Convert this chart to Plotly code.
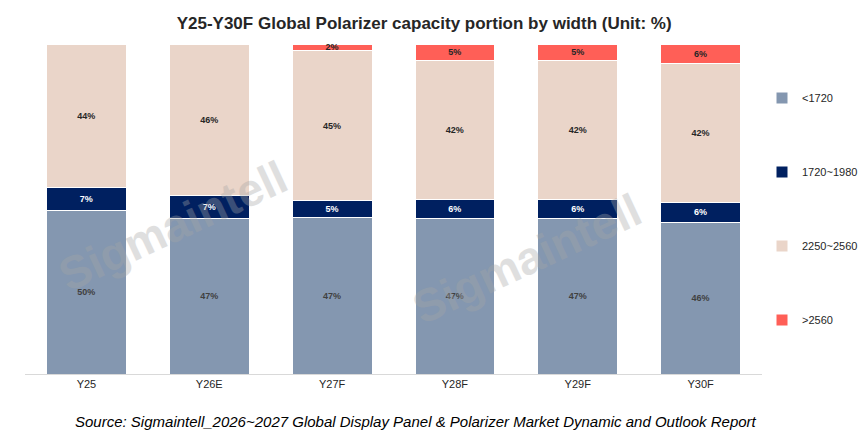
import plotly.graph_objects as go

years = ["Y25", "Y26E", "Y27F", "Y28F", "Y29F", "Y30F"]
lt1720 = [50, 47, 47, 47, 47, 46]
w1720_1980 = [7, 7, 5, 6, 6, 6]
w2250_2560 = [44, 46, 45, 42, 42, 42]
gt2560 = [0, 0, 2, 5, 5, 6]

series = [
    ("<1720", lt1720, "#8497B0", "#404040"),
    ("1720~1980", w1720_1980, "#002060", "white"),
    ("2250~2560", w2250_2560, "#EAD5C9", "#262626"),
    (">2560", gt2560, "#FF5F57", "#262626"),
]

FONT = "Liberation Sans, Arial"

fig = go.Figure()
for name, vals, color, tcol in series:
    fig.add_trace(go.Bar(
        x=years, y=vals, name=name, legendgroup=name,
        marker=dict(color=color, line=dict(color="white", width=1)),
        text=[f"{v}%" if v > 0 else "" for v in vals],
        textposition="inside", insidetextanchor="middle", textangle=0,
        textfont=dict(color=tcol, size=12, family=FONT),
        texttemplate="<b>%{text}</b>",
        width=0.65,
    ))

for x, y in [(0.2, 0.45), (0.68, 0.35)]:
    fig.add_annotation(
        xref="paper", yref="paper", x=x, y=y, xanchor="center", yanchor="middle",
        text="<b>Sigmaintell</b>",
        showarrow=False, textangle=-25, opacity=0.35,
        font=dict(size=46, color="#A6A6A6", family=FONT),
    )

fig.add_annotation(
    xref="paper", yref="paper", x=0.53, y=-0.145, yanchor="middle", xanchor="center",
    text="<i>Source: Sigmaintell_2026~2027 Global Display Panel &amp; Polarizer Market Dynamic and Outlook Report</i>",
    showarrow=False, font=dict(size=15, color="black", family=FONT),
)

fig.update_layout(
    barmode="stack", barnorm="percent",
    width=867, height=432,
    title=dict(text="<b>Y25-Y30F Global Polarizer capacity portion by width (Unit: %)</b>",
               x=0.48, y=0.965, xanchor="center", yanchor="middle",
               font=dict(size=17, color="#262626", family=FONT)),
    margin=dict(l=17, r=95, t=36, b=66),
    plot_bgcolor="white", paper_bgcolor="white",
    xaxis=dict(showline=True, linecolor="#D9D9D9",
               tickfont=dict(size=11, color="#262626", family=FONT)),
    yaxis=dict(visible=False, range=[0, 100]),
    legend=dict(traceorder="reversed+grouped", x=1.0, y=0.5, yanchor="middle", xanchor="left",
                font=dict(size=11, color="#262626", family=FONT),
                tracegroupgap=55, itemwidth=30),
    showlegend=True,
    uniformtext=dict(minsize=8, mode="show"),
)
fig.write_html("out.html")
